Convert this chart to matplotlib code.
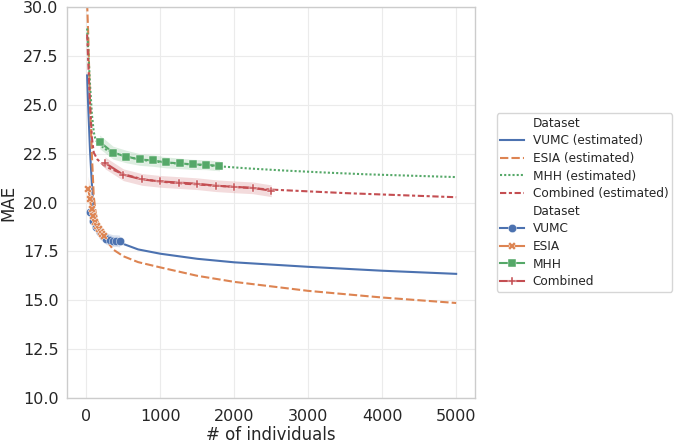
import numpy as np
import matplotlib
matplotlib.use("Agg")
import matplotlib.pyplot as plt
from matplotlib.lines import Line2D

# ---------------------------------------------------------------- data
DATASETS = ["VUMC", "ESIA", "MHH", "Combined"]
COLORS = {"VUMC": "#4C72B0", "ESIA": "#DD8452", "MHH": "#55A868", "Combined": "#C44E52"}
DASHES = {"VUMC": None, "ESIA": (4, 1.5), "MHH": (1, 1), "Combined": (3, 1.25, 1.5, 1.25)}
MARKERS = {"VUMC": "o", "ESIA": "X", "MHH": "s", "Combined": "P"}

# estimated (fitted) learning curves
vumc_est_x = [10, 25, 50, 75, 100, 150, 200, 300, 450, 700, 1000, 1500, 2000, 3000, 4000, 5000]
vumc_est_y = [26.5, 24.9, 22.6, 20.9, 19.6, 18.95, 18.6, 18.25, 17.95, 17.6, 17.38, 17.12, 16.94, 16.71, 16.51, 16.35]

esia_est_x = [10, 25, 50, 75, 100, 125, 150, 200, 250, 360, 500, 700, 1000, 1500, 2000, 3000, 4000, 5000]
esia_est_y = [30.2, 28.6, 25.0, 22.4, 20.3, 19.5, 19.05, 18.55, 18.2, 17.6, 17.25, 16.95, 16.68, 16.25, 15.94, 15.48, 15.14, 14.86]

mhh_est_x = [10, 25, 50, 75, 100, 125, 180, 270, 360, 540, 720, 900, 1200, 1500, 1800, 2200, 2700,
             3300, 3800, 4400, 5000]
mhh_est_y = [28.9, 27.8, 26.0, 24.5, 23.6, 23.2, 22.95, 22.7, 22.55, 22.35, 22.2, 22.1, 22.0, 21.93,
             21.85, 21.74, 21.63, 21.52, 21.44, 21.37, 21.3]

comb_est_x = [10, 25, 50, 75, 100, 150, 250, 500, 750, 1000, 1250, 1500, 2000, 2500, 3000, 3500,
              4000, 4500, 5000]
comb_est_y = [28.6, 27.2, 25.0, 23.3, 22.55, 22.2, 21.85, 21.45, 21.2, 21.07, 20.98, 20.92, 20.8,
              20.66, 20.57, 20.48, 20.41, 20.34, 20.27]

# observed MAE (mean and band half-width)
vumc_x = [45, 90, 135, 180, 225, 270, 315, 360, 405, 450]
vumc_y = [19.5, 19.05, 18.75, 18.5, 18.3, 18.15, 18.1, 18.05, 18.05, 18.03]
vumc_err = [0.35, 0.35, 0.35, 0.3, 0.3, 0.3, 0.3, 0.3, 0.3, 0.3]

esia_x = [24, 48, 72, 96, 120, 144, 168, 192, 216, 240]
esia_y = [20.7, 20.2, 19.65, 19.3, 19.0, 18.8, 18.65, 18.5, 18.4, 18.3]
esia_err = [0.65, 0.55, 0.45, 0.4, 0.35, 0.35, 0.3, 0.3, 0.3, 0.3]

mhh_x = [180, 360, 540, 720, 900, 1080, 1260, 1440, 1620, 1800]
mhh_y = [23.1, 22.55, 22.35, 22.2, 22.15, 22.05, 22.0, 21.95, 21.93, 21.87]
mhh_err = [0.35, 0.33, 0.32, 0.3, 0.3, 0.28, 0.27, 0.26, 0.25, 0.25]

comb_x = [250, 500, 750, 1000, 1250, 1500, 1750, 2000, 2250, 2500]
comb_y = [22.03, 21.42, 21.18, 21.08, 21.02, 20.96, 20.86, 20.8, 20.75, 20.6]
comb_err = [0.3, 0.3, 0.3, 0.3, 0.3, 0.3, 0.3, 0.3, 0.3, 0.3]

EST = {"VUMC": (vumc_est_x, vumc_est_y), "ESIA": (esia_est_x, esia_est_y),
       "MHH": (mhh_est_x, mhh_est_y), "Combined": (comb_est_x, comb_est_y)}
OBS = {"VUMC": (vumc_x, vumc_y, vumc_err), "ESIA": (esia_x, esia_y, esia_err),
       "MHH": (mhh_x, mhh_y, mhh_err), "Combined": (comb_x, comb_y, comb_err)}

TXT = "#262626"
plt.rcParams.update({"font.family": "DejaVu Sans", "text.color": TXT, "axes.labelcolor": TXT,
                     "xtick.color": TXT, "ytick.color": TXT})

fig = plt.figure(figsize=(6.77, 4.44), dpi=100)
ax = fig.add_axes([67 / 677, 1 - 398 / 444, 408 / 677, 391 / 444])

handles = [Line2D([], [], linestyle="none")]
labels = ["Dataset"]
for d in DATASETS:
    x, y = EST[d]
    ln, = ax.plot(x, y, color=COLORS[d], lw=1.5, zorder=2)
    if DASHES[d] is not None:
        ln.set_dashes(DASHES[d])
    handles.append(ln); labels.append(f"{d} (estimated)")

handles.append(Line2D([], [], linestyle="none")); labels.append("Dataset")
for d in DATASETS:
    x, y, e = OBS[d]
    x = np.array(x); y = np.array(y); e = np.array(e)
    ax.fill_between(x, y - e, y + e, color=COLORS[d], alpha=0.2, lw=0, zorder=1)
    ln, = ax.plot(x, y, color=COLORS[d], lw=1.5, marker=MARKERS[d], ms=6,
                  mec="white", mew=0.3, zorder=3)
    handles.append(ln); labels.append(d)

ax.set_xlim(-262, 5255)
ax.set_ylim(10, 30)
ax.set_xticks(range(0, 5001, 1000))
ax.set_yticks(np.arange(10, 30.1, 2.5))
ax.set_yticklabels([f"{v:.1f}" for v in np.arange(10, 30.1, 2.5)])
ax.tick_params(axis="x", labelsize=11.5, length=0, pad=8)
ax.tick_params(axis="y", labelsize=11.5, length=0, pad=6)
ax.grid(True, color="#ebebeb", lw=0.8)
ax.set_axisbelow(True)
for s in ax.spines.values():
    s.set_color("#cccccc"); s.set_linewidth(1.0)
ax.set_xlabel("# of individuals", fontsize=12, labelpad=1)
ax.set_ylabel("MAE", fontsize=12, labelpad=4)

leg = ax.legend(handles, labels, loc="center left", bbox_to_anchor=(1.038, 0.5), fontsize=8.7,
                labelspacing=0.38, handlelength=2.0, handletextpad=0.7, frameon=True,
                edgecolor="#cccccc", fancybox=True, borderpad=0.3)

fig.savefig("out.png", dpi=100)
